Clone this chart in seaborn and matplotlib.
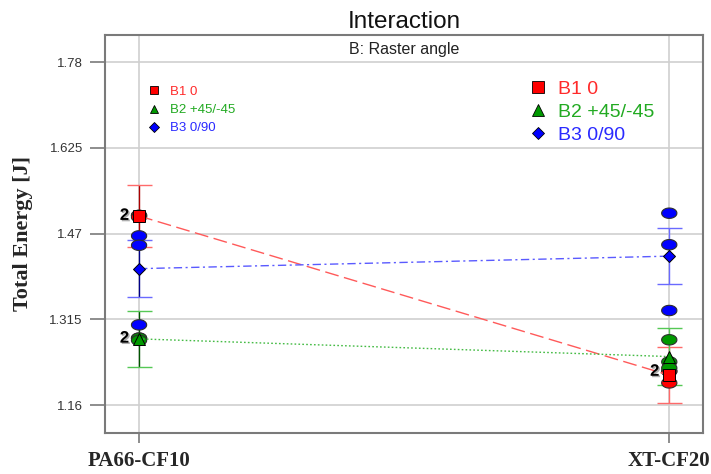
import numpy as np
import pandas as pd
import matplotlib
matplotlib.use("Agg")
import matplotlib.pyplot as plt
from matplotlib.lines import Line2D
import matplotlib.patheffects as pe
import seaborn as sns

# ---- data -------------------------------------------------------------
materials = ["PA66-CF10", "XT-CF20"]
angles = ["B1 0", "B2 +45/-45", "B3 0/90"]

# design points (three runs per cell)
pa66_b1 = [1.503, 1.503, 1.500]
pa66_b2 = [1.281, 1.281, 1.277]
pa66_b3 = [1.466, 1.449, 1.305]
xt_b1 = [1.221, 1.221, 1.200]
xt_b2 = [1.278, 1.238, 1.227]
xt_b3 = [1.507, 1.450, 1.331]

# LSD half-widths per cell
lsd_pa66 = [0.056, 0.051, 0.051]
lsd_xt = [0.051, 0.051, 0.051]

# replicated points marked with a count
dup_labels = [(0, 1.503, "2"), (0, 1.281, "2"), (1, 1.221, "2")]

yticks = [1.16, 1.315, 1.47, 1.625, 1.78]
ytick_labels = ["1.16", "1.315", "1.47", "1.625", "1.78"]

# ---- table ------------------------------------------------------------
rows = []
for mat, cells in zip(materials, [[pa66_b1, pa66_b2, pa66_b3], [xt_b1, xt_b2, xt_b3]]):
    for ang, vals in zip(angles, cells):
        for v in vals:
            rows.append({"Material": mat, "Angle": ang, "Energy": v})
df = pd.DataFrame(rows)

# ---- style ------------------------------------------------------------
sns.set_theme(style="white")
plt.rcParams["font.family"] = ["Liberation Sans", "DejaVu Sans"]

marker_colors = {"B1 0": "#ff0000", "B2 +45/-45": "#009900", "B3 0/90": "#0000ff"}
line_colors = {"B1 0": "#ff5a5a", "B2 +45/-45": "#44bb44", "B3 0/90": "#5a5aff"}
bar_colors = {"B1 0": "#ff6a6a", "B2 +45/-45": "#55c855", "B3 0/90": "#6a6aff"}
edge_colors = {"B1 0": "#aa0000", "B2 +45/-45": "#005500", "B3 0/90": "#000088"}
text_colors = {"B1 0": "#ff2a2a", "B2 +45/-45": "#22aa22", "B3 0/90": "#2a2aff"}
mean_markers = {"B1 0": "s", "B2 +45/-45": "^", "B3 0/90": "D"}
dash_styles = {"B1 0": (0, (10, 4)), "B2 +45/-45": (0, (1.2, 1.6)),
               "B3 0/90": (0, (6, 2.5, 1.5, 2.5))}

fig = plt.figure(figsize=(7.11, 4.74), dpi=100)
ax = fig.add_axes([0.1477, 0.0858, 0.8406, 0.8411])

# LSD bars
for xi, lsd in enumerate([lsd_pa66, lsd_xt]):
    for ang, half in zip(angles, lsd):
        m = df[(df.Material == materials[xi]) & (df.Angle == ang)].Energy.mean()
        ax.errorbar([xi], [m], yerr=[half], color=bar_colors[ang], lw=1.0,
                    capsize=9, capthick=1.0, fmt="none", zorder=2)

# design points as horizontal ovals
t = np.linspace(0, 2 * np.pi, 40)
oval = np.column_stack([np.cos(t), 0.68 * np.sin(t)])
sns.stripplot(data=df, x="Material", y="Energy", hue="Angle", order=materials,
              hue_order=angles, palette=marker_colors, jitter=False, dodge=False,
              marker=oval, s=11, linewidth=0.8, ax=ax, legend=False, zorder=3)
for coll, ang in zip(ax.collections, angles):
    coll.set_edgecolor(edge_colors[ang])

# cell means joined across materials
n_before = len(ax.lines)
sns.pointplot(data=df, x="Material", y="Energy", hue="Angle", order=materials,
              hue_order=angles, palette=line_colors, errorbar=None,
              markers=[mean_markers[a] for a in angles], linestyles="-",
              ax=ax, legend=False)
mean_lines = ax.lines[n_before:]
for ln, ang in zip(mean_lines, angles):
    ln.set_linestyle(dash_styles[ang])
    ln.set_linewidth(1.0)
    ln.set_markerfacecolor(marker_colors[ang])
    ln.set_markeredgecolor("black")
    ln.set_markeredgewidth(0.7)
    ln.set_markersize(8 if ang != "B3 0/90" else 6.5)
    ln.set_zorder(4)

# replicate counts
for xi, v, txt in dup_labels:
    ax.annotate(txt, (xi, v), xytext=(-10.5, 0), textcoords="offset points",
                ha="center", va="center", fontsize=12, fontweight="bold",
                color="black", zorder=5,
                path_effects=[pe.withSimplePatchShadow(offset=(1, -1), shadow_rgbFace="#999999", alpha=0.8)])

# axes, grid and ticks
ax.set_xlim(-0.0642, 1.063)
ax.set_ylim(1.1088, 1.830)
ax.set_yticks(yticks)
ax.set_yticklabels(ytick_labels)
ax.grid(True, color="#cfcfcf", lw=1.2)
ax.set_axisbelow(True)
for sp in ax.spines.values():
    sp.set_color("#7a7a7a")
    sp.set_linewidth(1.5)
ax.tick_params(axis="y", length=11, width=1.2, color="#7a7a7a", pad=5,
               labelsize=9.5, labelcolor="#333333", left=True)
ax.tick_params(axis="x", length=7.5, width=1.2, color="#7a7a7a", pad=5, bottom=True)
for lab in ax.get_xticklabels():
    lab.set_fontfamily("Liberation Serif")
    lab.set_fontweight("bold")
    lab.set_fontsize(15)
ax.set_xlabel("")
ax.set_ylabel("Total Energy [J]", fontfamily="Liberation Serif", fontweight="bold",
              fontsize=16)
ax.yaxis.set_label_coords(-0.137, 0.5)
ax.yaxis.label.set_verticalalignment("center")

ax.set_title("Interaction", fontsize=17.5, pad=5, color="#111111")
ax.text(0.5, 0.963, "B: Raster angle", transform=ax.transAxes, ha="center",
        va="center", fontsize=11.5, color="#222222")

# legends: small one at upper left, larger one at upper right
def make_handles(ms):
    return [Line2D([], [], ls="none", marker=mean_markers[a],
                   markerfacecolor=marker_colors[a], markeredgecolor="black",
                   markeredgewidth=0.6,
                   markersize=ms if a != "B3 0/90" else ms * 0.8) for a in angles]

leg1 = ax.legend(make_handles(6), angles, loc="upper left",
                 bbox_to_anchor=(0.065, 0.885), frameon=False, fontsize=9.5,
                 labelcolor=[text_colors[a] for a in angles], handlelength=0.8,
                 handletextpad=0.75, labelspacing=0.45, borderaxespad=0)
ax.add_artist(leg1)
ax.legend(make_handles(8), angles, loc="upper left",
          bbox_to_anchor=(0.699, 0.905), frameon=False, fontsize=14,
          labelcolor=[text_colors[a] for a in angles], handlelength=0.8,
          handletextpad=0.6, labelspacing=0.27, borderaxespad=0)

fig.savefig("out.png", dpi=100)
